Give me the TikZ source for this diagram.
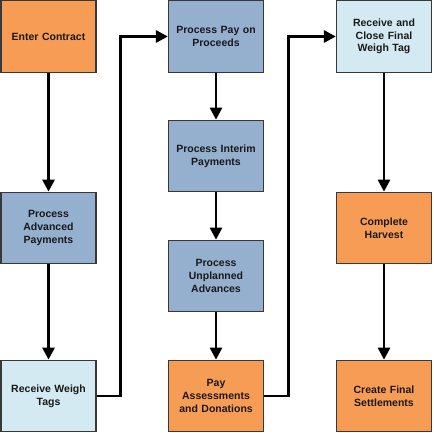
\documentclass[tikz,border=0pt]{standalone}
\usepackage{fontspec}
\setmainfont{Liberation Sans}
\usetikzlibrary{arrows.meta}
\definecolor{orangebox}{HTML}{F79C54}
\definecolor{bluebox}{HTML}{95AFCF}
\definecolor{lightbox}{HTML}{D4EAF2}
\definecolor{edgegray}{HTML}{383838}
\tikzset{
  stepbox/.style={draw=edgegray, line width=1.2pt, minimum width=95pt, minimum height=71.5pt,
    inner sep=2pt, align=center, text width=88pt,
    font=\fontsize{10.5}{12.7}\selectfont\bfseries, text=black!90},
  obox/.style={stepbox, fill=orangebox},
  bbox/.style={stepbox, fill=bluebox},
  lbox/.style={stepbox, fill=lightbox},
  flow/.style={line width=2.8pt, -{Triangle[length=12pt,width=12pt]}}
}
\begin{document}
\begin{tikzpicture}[x=1pt,y=-1pt]
\useasboundingbox (0,0) rectangle (433,433);
\node[obox] (ec) at (48.5,36.5) {Enter Contract};
\node[bbox] (pa) at (48.5,228) {Process\\Advanced\\Payments};
\node[lbox] (rw) at (48.5,396) {Receive Weigh\\Tags};
\node[bbox] (pp) at (216,36.5) {Process Pay on\\Proceeds};
\node[bbox] (pi) at (216,156) {Process Interim\\Payments};
\node[bbox] (pu) at (216,276) {Process\\Unplanned\\Advances};
\node[obox] (pd) at (216,396) {Pay\\Assessments\\and Donations};
\node[lbox] (rc) at (384,36.5) {Receive and\\Close Final\\Weigh Tag};
\node[obox] (ch) at (384,228) {Complete\\Harvest};
\node[obox] (cf) at (384,396) {Create Final\\Settlements};
\draw[flow] (ec) -- (pa);
\draw[flow] (pa) -- (rw);
\draw[flow] (rw.east) -- ++(24,0) |- (pp.west);
\draw[flow] (pp) -- (pi);
\draw[flow] (pi) -- (pu);
\draw[flow] (pu) -- (pd);
\draw[flow] (pd.east) -- ++(24,0) |- (rc.west);
\draw[flow] (rc) -- (ch);
\draw[flow] (ch) -- (cf);
\end{tikzpicture}
\end{document}
